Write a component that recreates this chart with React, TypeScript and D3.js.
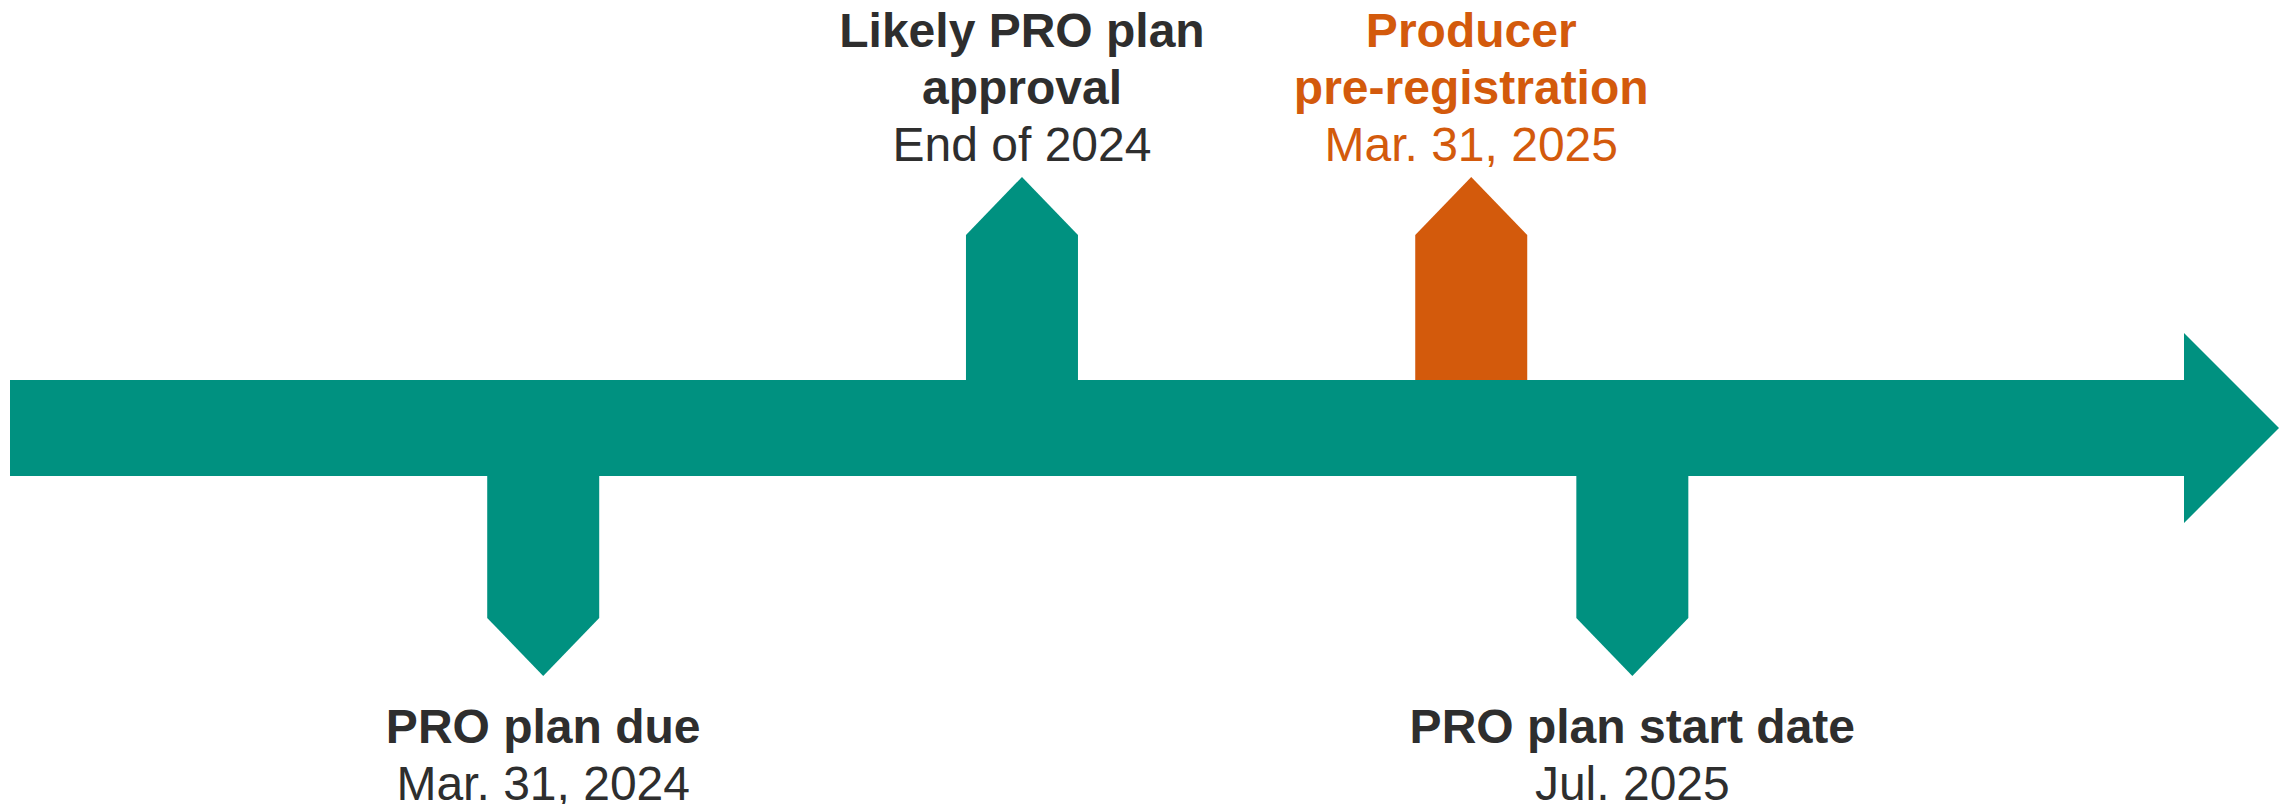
import { useEffect, useRef } from 'react'
import * as d3 from 'd3'

// Milestones along the timeline (position = % of the way from bar start to arrow tip)
const titles = [['PRO plan due'], ['Likely PRO plan', 'approval'], ['Producer', 'pre-registration'], ['PRO plan start date']]
const dates = ['Mar. 31, 2024', 'End of 2024', 'Mar. 31, 2025', 'Jul. 2025']
const positions = [23.5, 44.6, 64.4, 71.5]
const sides = ['below', 'above', 'above', 'below']
const highlighted = [false, false, true, false]

const TEAL = '#009180'
const ORANGE = '#D35A0C'
const TEXT = '#2E2E2E'

export default function App() {
  const svgRef = useRef<SVGSVGElement>(null)

  useEffect(() => {
    if (!svgRef.current) return
    const width = 2290
    const height = 804
    const svg = d3.select(svgRef.current)
    svg.selectAll('*').remove()
    svg.attr('width', width).attr('height', height)

    // Timeline geometry
    const barLeft = 10
    const barTop = 380
    const barBottom = 476
    const barMid = (barTop + barBottom) / 2
    const headBack = 2184
    const headTip = 2279
    const headHalf = 95
    const shaftHalf = 56
    const upShaftTop = 235
    const upTip = 177
    const downShaftBottom = 618
    const downTip = 676

    const x = d3.scaleLinear().domain([0, 100]).range([barLeft, headTip])
    const line = d3.line<[number, number]>()

    const milestones = titles.map((t, i) => ({
      title: t,
      date: dates[i],
      pos: positions[i],
      side: sides[i],
      hi: highlighted[i],
    }))

    // Milestone arrows (drawn first so the bar sits on top)
    milestones.forEach((m) => {
      const cx = x(m.pos)
      const pts: [number, number][] =
        m.side === 'above'
          ? [
              [cx - shaftHalf, barMid],
              [cx - shaftHalf, upShaftTop],
              [cx, upTip],
              [cx + shaftHalf, upShaftTop],
              [cx + shaftHalf, barMid],
            ]
          : [
              [cx - shaftHalf, barMid],
              [cx - shaftHalf, downShaftBottom],
              [cx, downTip],
              [cx + shaftHalf, downShaftBottom],
              [cx + shaftHalf, barMid],
            ]
      svg
        .append('path')
        .attr('d', line(pts) + 'Z')
        .attr('fill', m.hi ? ORANGE : TEAL)
    })

    // Main timeline arrow
    const barPts: [number, number][] = [
      [barLeft, barTop],
      [headBack, barTop],
      [headBack, barMid - headHalf],
      [headTip, barMid],
      [headBack, barMid + headHalf],
      [headBack, barBottom],
      [barLeft, barBottom],
    ]
    svg.append('path').attr('d', line(barPts) + 'Z').attr('fill', TEAL)

    // Labels
    const fontSize = 48
    const lineGap = 57
    const aboveDateBaseline = 161
    const belowTitleBaseline = 743

    milestones.forEach((m) => {
      const cx = x(m.pos)
      const color = m.hi ? ORANGE : TEXT
      const lines = [
        ...m.title.map((t) => ({ t, bold: true })),
        { t: m.date, bold: false },
      ]
      const firstBaseline =
        m.side === 'above'
          ? aboveDateBaseline - (lines.length - 1) * lineGap
          : belowTitleBaseline - (m.title.length - 1) * lineGap
      lines.forEach((l, j) => {
        svg
          .append('text')
          .attr('x', cx)
          .attr('y', firstBaseline + j * lineGap)
          .attr('text-anchor', 'middle')
          .attr('font-family', '"Liberation Sans", Arial, sans-serif')
          .attr('font-size', fontSize)
          .attr('font-weight', l.bold ? 700 : 400)
          .attr('fill', color)
          .text(l.t)
      })
    })
  }, [])

  return (
    <svg
      ref={svgRef}
      style={{ position: 'absolute', left: 0, top: 0, display: 'block', background: '#fff' }}
    />
  )
}
